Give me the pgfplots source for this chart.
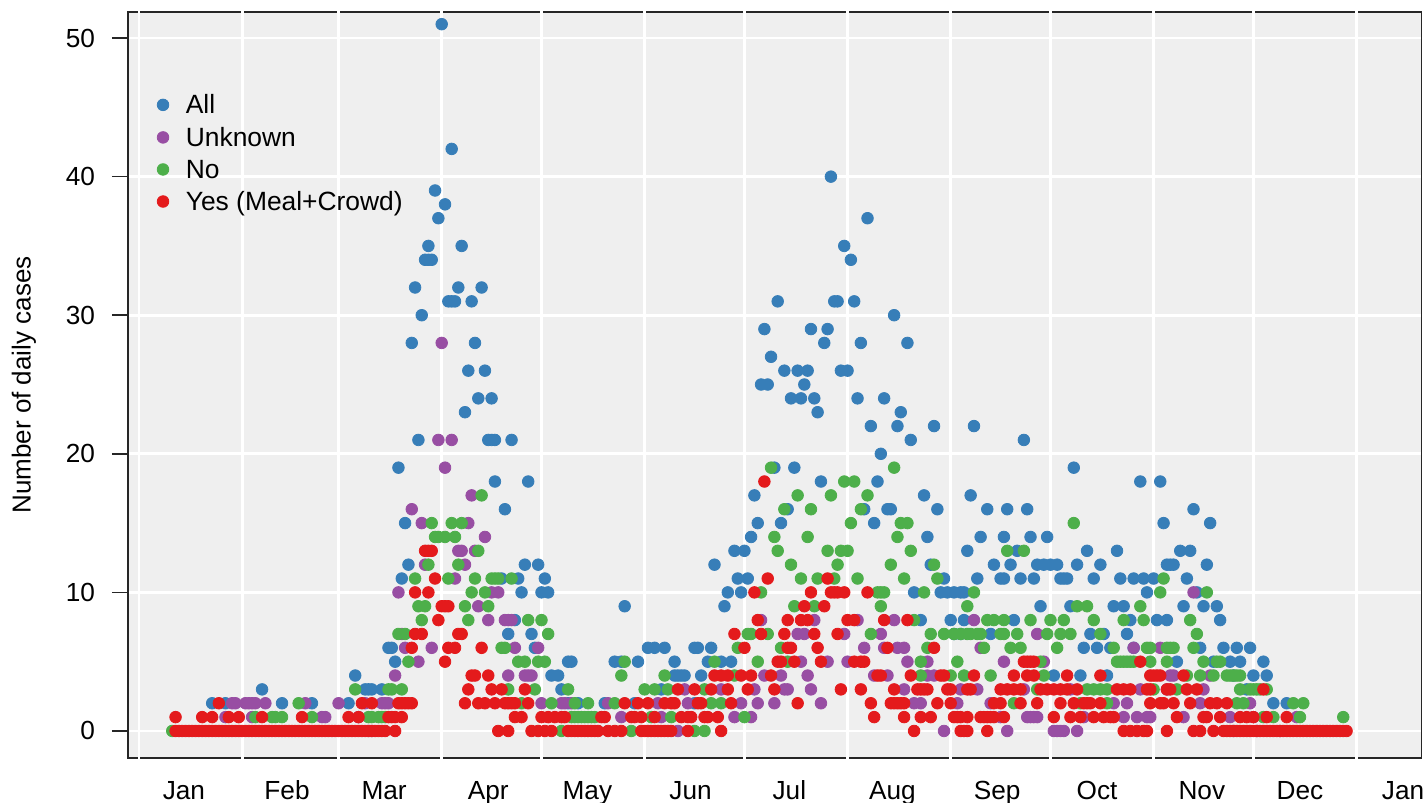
\documentclass[border=0pt]{standalone}
\usepackage{fontspec}
\setmainfont{Liberation Sans}
\usepackage{pgfplots}
\pgfplotsset{compat=1.18}

% 1 px of the reference = 0.5pt
\definecolor{cAll}{HTML}{377EB8}
\definecolor{cUnknown}{HTML}{984EA3}
\definecolor{cNo}{HTML}{4DAF4A}
\definecolor{cYes}{HTML}{E41A1C}
\definecolor{panel}{HTML}{EFEFEF}

\begin{document}
\begin{tikzpicture}
\begin{axis}[
    scale only axis,
    anchor=south west,
    at={(0pt,0pt)},
    width=646.7pt, height=373pt,
    xmin=-3.3, xmax=385.5,
    ymin=-1.95, ymax=51.88,
    axis background/.style={fill=panel},
    axis line style={line width=0.9pt,color=black!85},
    tick label style={font=\fontsize{13.1}{15}\selectfont},
    label style={font=\fontsize{13}{15}\selectfont},
    legend style={font=\fontsize{13.2}{15}\selectfont},
    xtick={13.5,44.5,73.7,105,134.8,165.8,195.5,226.5,258,288,319.5,349,380},
    xticklabels={Jan,Feb,Mar,Apr,May,Jun,Jul,Aug,Sep,Oct,Nov,Dec,Jan},
    minor xtick={0,31,60,91,121,152,182,213,244,274,305,335,366},
    xminorgrids=true,
    minor grid style={white,line width=1.4pt},
    major x tick style={draw=none},
    minor x tick style={draw=none},
    xtick pos=bottom,
    x tick label style={yshift=-7.5pt,text height=9.5pt,text depth=3pt},
    ytick={0,10,20,30,40,50},
    ymajorgrids=true,
    major grid style={white,line width=1.4pt},
    ytick pos=left,
    ytick align=outside,
    major tick length=8pt,
    y tick style={line width=0.8pt,black!85},
    y tick label style={xshift=-5pt},
    /pgf/number format/assume math mode=true,
    ylabel={Number of daily cases},
    ylabel style={at={(axis description cs:0,0.5)},anchor=center,yshift=52pt},
    legend cell align=left,
    legend style={draw=none,fill=none,at={(0.0223,0.8922)},anchor=north west,
        row sep=4.2pt,inner sep=0pt,nodes={inner sep=1pt}},
    % the white month lines cut the frame
    after end axis/.code={
        \foreach \d in {0,31,60,91,121,152,182,213,244,274,305,335,366}{
            \draw[white,line width=1.4pt] (axis cs:\d,-1.95) ++(0,-1pt) -- ++(0,2pt);
            \draw[white,line width=1.4pt] (axis cs:\d,51.88) ++(0,-1pt) -- ++(0,2pt);
        }
    },
]
\addplot[only marks,mark=*,mark size=2.9pt,color=cAll,mark options={draw=cAll,fill=cAll}] coordinates {
 (91,51) (94,42) (208,40) (89,39) (92,38) (90,37) (219,37)
 (87,35) (97,35) (212,35) (86,34) (87,34) (88,34) (214,34)
 (83,32) (96,32) (103,32)
 (93,31) (94,31) (95,31) (100,31) (192,31) (209,31) (210,31) (215,31)
 (85,30) (227,30) (188,29) (202,29) (207,29)
 (82,28) (101,28) (206,28) (217,28) (231,28) (190,27)
 (99,26) (104,26) (194,26) (198,26) (201,26) (211,26) (213,26)
 (187,25) (189,25) (200,25)
 (102,24) (106,24) (196,24) (199,24) (203,24) (216,24) (224,24)
 (98,23) (204,23) (229,23) (220,22) (228,22) (239,22) (251,22)
 (84,21) (105,21) (106,21) (107,21) (112,21) (232,21) (266,21) (223,20)
 (78,19) (191,19) (197,19) (281,19)
 (107,18) (117,18) (205,18) (222,18) (301,18) (307,18)
 (185,17) (236,17) (250,17)
 (110,16) (195,16) (218,16) (225,16) (226,16) (240,16) (255,16) (261,16) (267,16) (317,16)
 (80,15) (186,15) (193,15) (221,15) (308,15) (322,15)
 (184,14) (237,14) (253,14) (260,14) (268,14) (273,14)
 (179,13) (182,13) (249,13) (264,13) (285,13) (294,13) (313,13) (316,13)
 (81,12) (116,12) (120,12) (173,12) (238,12) (257,12) (262,12) (270,12) (272,12) (274,12) (276,12) (282,12) (289,12) (309,12) (310,12) (311,12) (321,12)
 (79,11) (109,11) (114,11) (122,11) (180,11) (183,11) (242,11) (252,11) (259,11) (260,11) (265,11) (269,11) (277,11) (278,11) (279,11) (287,11) (295,11) (299,11) (302,11) (305,11) (315,11)
 (115,10) (121,10) (123,10) (177,10) (181,10) (233,10) (241,10) (243,10) (245,10) (247,10) (248,10) (303,10) (318,10)
 (146,9) (176,9) (271,9) (280,9) (293,9) (296,9) (314,9) (320,9) (324,9)
 (113,8) (235,8) (244,8) (248,8) (263,8) (298,8) (306,8) (309,8) (325,8)
 (111,7) (118,7) (245,7) (247,7) (256,7) (286,7) (290,7) (297,7)
 (75,6) (76,6) (119,6) (153,6) (155,6) (158,6) (167,6) (168,6) (172,6) (284,6) (288,6) (292,6) (299,6) (319,6) (326,6) (330,6) (334,6)
 (77,5) (129,5) (130,5) (143,5) (145,5) (150,5) (161,5) (171,5) (175,5) (178,5) (312,5) (323,5) (328,5) (331,5) (338,5)
 (65,4) (124,4) (126,4) (161,4) (162,4) (163,4) (164,4) (169,4) (275,4) (283,4) (291,4) (329,4) (335,4) (339,4)
 (37,3) (68,3) (69,3) (70,3) (73,3) (127,3) (157,3) (333,3)
 (22,2) (26,2) (43,2) (52,2) (63,2) (129,2) (132,2) (140,2) (149,2) (167,2) (341,2) (345,2)
};
\addlegendentry{\hspace*{7.5pt}\raisebox{-1pt}{All}}
\addplot[only marks,mark=*,mark size=2.9pt,color=cUnknown,mark options={draw=cUnknown,fill=cUnknown}] coordinates {
 (91,28) (90,21) (94,21) (92,19) (100,17) (82,16) (85,15) (99,15) (104,14)
 (96,13) (97,13) (101,13) (86,12) (98,12) (95,11)
 (78,10) (106,10) (108,10) (317,10) (102,9)
 (105,8) (110,8) (111,8) (112,8) (187,8) (203,8) (216,8) (227,8) (251,8)
 (79,7) (198,7) (200,7) (212,7) (223,7) (270,7)
 (80,6) (88,6) (113,6) (120,6) (218,6) (224,6) (228,6) (230,6) (253,6) (299,6) (307,6)
 (84,5) (199,5) (207,5) (213,5) (231,5) (237,5) (260,5) (272,5)
 (77,4) (111,4) (116,4) (117,4) (118,4) (188,4) (193,4) (201,4) (221,4) (225,4) (237,4) (239,4) (310,4) (311,4) (322,4)
 (164,3) (175,3) (185,3) (194,3) (195,3) (202,3) (230,3) (247,3) (252,3) (266,3) (280,3) (301,3) (309,3) (320,3)
 (28,2) (29,2) (32,2) (33,2) (34,2) (35,2) (38,2) (50,2) (60,2) (68,2) (73,2) (74,2) (75,2) (121,2) (127,2) (128,2) (130,2) (141,2) (156,2) (165,2) (181,2) (186,2) (191,2) (205,2) (233,2) (235,2) (246,2) (256,2) (293,2) (297,2) (319,2) (334,2)
 (26,1) (34,1) (55,1) (56,1) (66,1) (145,1) (157,1) (179,1) (184,1) (259,1) (267,1) (268,1) (269,1) (270,1) (284,1) (296,1) (300,1) (303,1) (304,1) (314,1) (328,1) (335,1) (348,1)
 (69,0) (70,0) (162,0) (242,0) (261,0) (275,0) (276,0) (277,0) (278,0) (282,0) (329,0) (336,0) (343,0)
};
\addlegendentry{\hspace*{7.5pt}\raisebox{-1pt}{Unknown}}
\addplot[only marks,mark=*,mark size=2.9pt,color=cNo,mark options={draw=cNo,fill=cNo}] coordinates {
 (190,19) (227,19) (212,18) (215,18) (103,17) (198,17) (208,17) (219,17) (194,16) (202,16) (217,16)
 (88,15) (94,15) (97,15) (214,15) (229,15) (231,15) (281,15)
 (89,14) (90,14) (92,14) (95,14) (191,14) (201,14) (228,14)
 (102,13) (192,13) (207,13) (211,13) (213,13) (232,13) (261,13) (266,13)
 (87,12) (96,12) (196,12) (210,12) (226,12) (239,12)
 (83,11) (93,11) (101,11) (106,11) (107,11) (108,11) (112,11) (199,11) (204,11) (209,11) (216,11) (230,11) (240,11) (308,11)
 (100,10) (104,10) (187,10) (222,10) (223,10) (224,10) (236,10) (251,10) (307,10) (321,10)
 (84,9) (86,9) (98,9) (105,9) (197,9) (203,9) (223,9) (249,9) (282,9) (285,9) (301,9)
 (85,8) (99,8) (117,8) (121,8) (233,8) (255,8) (257,8) (260,8) (268,8) (274,8) (278,8) (287,8) (296,8) (302,8) (316,8)
 (78,7) (80,7) (123,7) (183,7) (184,7) (189,7) (220,7) (238,7) (242,7) (245,7) (247,7) (249,7) (250,7) (252,7) (253,7) (259,7) (260,7) (264,7) (273,7) (277,7) (280,7) (289,7) (318,7)
 (109,6) (110,6) (180,6) (193,6) (237,6) (254,6) (262,6) (265,6) (276,6) (293,6) (303,6) (304,6) (309,6) (310,6) (311,6) (317,6)
 (81,5) (114,5) (116,5) (120,5) (122,5) (146,5) (173,5) (186,5) (195,5) (235,5) (246,5) (271,5) (294,5) (295,5) (296,5) (297,5) (298,5) (299,5) (304,5) (309,5) (320,5) (324,5) (325,5)
 (145,4) (158,4) (179,4) (235,4) (244,4) (248,4) (256,4) (272,4) (315,4) (319,4) (323,4) (327,4) (328,4) (329,4) (330,4) (331,4)
 (65,3) (75,3) (76,3) (79,3) (111,3) (119,3) (129,3) (152,3) (155,3) (159,3) (170,3) (270,3) (285,3) (287,3) (289,3) (291,3) (305,3) (312,3) (331,3) (334,3) (335,3) (336,3) (337,3) (339,3)
 (48,2) (115,2) (124,2) (131,2) (135,2) (143,2) (172,2) (175,2) (263,2) (283,2) (291,2) (330,2) (332,2) (347,2) (350,2)
 (35,1) (40,1) (41,1) (43,1) (52,1) (69,1) (70,1) (72,1) (73,1) (74,1) (130,1) (131,1) (132,1) (133,1) (134,1) (135,1) (136,1) (137,1) (154,1) (160,1) (182,1) (338,1) (341,1) (349,1) (362,1)
 (10,0) (127,0) (148,0) (167,0) (170,0)
};
\addlegendentry{\hspace*{7.5pt}\raisebox{-1pt}{No}}
\addplot[only marks,mark=*,mark size=2.9pt,color=cYes,mark options={draw=cYes,fill=cYes}] coordinates {
 (188,18) (86,13) (87,13) (88,13) (89,11) (189,11) (207,11)
 (83,10) (87,10) (185,10) (202,10) (208,10) (209,10) (210,10) (212,10) (219,10)
 (91,9) (92,9) (93,9) (200,9) (206,9)
 (90,8) (186,8) (195,8) (199,8) (201,8) (213,8) (215,8) (224,8) (231,8)
 (83,7) (85,7) (96,7) (97,7) (179,7) (187,7) (194,7) (203,7) (210,7)
 (82,6) (93,6) (95,6) (103,6) (182,6) (195,6) (196,6) (204,6) (225,6) (239,6)
 (92,5) (192,5) (193,5) (197,5) (205,5) (215,5) (217,5) (218,5) (266,5) (267,5) (268,5) (269,5) (301,5)
 (100,4) (101,4) (105,4) (173,4) (175,4) (177,4) (181,4) (184,4) (190,4) (222,4) (223,4) (232,4) (241,4) (242,4) (251,4) (263,4) (267,4) (269,4) (279,4) (289,4) (304,4) (305,4) (306,4) (307,4) (314,4)
 (99,3) (106,3) (109,3) (116,3) (162,3) (167,3) (172,3) (177,3) (183,3) (191,3) (211,3) (217,3) (227,3) (234,3) (235,3) (236,3) (237,3) (243,3) (244,3) (249,3) (250,3) (259,3) (261,3) (263,3) (265,3) (271,3) (273,3) (275,3) (277,3) (279,3) (282,3) (294,3) (296,3) (298,3) (303,3) (304,3) (309,3) (310,3) (315,3) (318,3) (338,3)
 (24,2) (67,2) (70,2) (78,2) (79,2) (80,2) (81,2) (82,2) (98,2) (102,2) (104,2) (107,2) (110,2) (111,2) (112,2) (113,2) (117,2) (146,2) (150,2) (153,2) (158,2) (160,2) (161,2) (168,2) (169,2) (178,2) (198,2) (220,2) (226,2) (227,2) (228,2) (229,2) (230,2) (240,2) (244,2) (257,2) (259,2) (265,2) (270,2) (277,2) (281,2) (284,2) (285,2) (286,2) (289,2) (304,2) (307,2) (308,2) (311,2) (316,2) (322,2) (324,2) (327,2)
 (11,1) (19,1) (22,1) (27,1) (30,1) (37,1) (49,1) (63,1) (66,1) (75,1) (76,1) (77,1) (79,1) (113,1) (115,1) (121,1) (123,1) (125,1) (127,1) (128,1) (139,1) (140,1) (148,1) (149,1) (151,1) (155,1) (163,1) (165,1) (166,1) (170,1) (171,1) (174,1) (221,1) (230,1) (235,1) (238,1) (245,1) (246,1) (247,1) (249,1) (253,1) (254,1) (255,1) (256,1) (257,1) (260,1) (275,1) (280,1) (283,1) (287,1) (290,1) (292,1) (293,1) (312,1) (320,1) (321,1) (325,1) (331,1) (333,1) (335,1) (339,1) (345,1)
 (11,0) (12,0) (13,0) (14,0) (15,0) (16,0) (17,0) (18,0) (19,0) (20,0) (21,0) (22,0) (23,0) (24,0) (25,0) (26,0) (27,0) (28,0) (29,0) (30,0)
 (31,0) (32,0) (33,0) (34,0) (35,0) (36,0) (37,0) (38,0) (39,0) (40,0) (41,0) (42,0) (43,0) (44,0) (45,0) (46,0) (47,0) (48,0) (49,0) (50,0)
 (51,0) (52,0) (53,0) (54,0) (55,0) (56,0) (57,0) (58,0) (59,0) (60,0) (61,0) (62,0) (63,0) (64,0) (65,0) (66,0) (67,0) (68,0) (69,0) (70,0)
 (71,0) (72,0) (73,0) (74,0) (77,0) (108,0) (111,0) (118,0) (120,0) (122,0) (124,0)
 (129,0) (130,0) (131,0) (132,0) (133,0) (134,0) (135,0) (136,0) (137,0) (138,0) (141,0) (143,0) (145,0)
 (151,0) (152,0) (153,0) (154,0) (155,0) (156,0) (157,0) (158,0) (159,0) (160,0) (165,0) (175,0) (233,0) (247,0) (248,0) (249,0) (255,0) (296,0) (298,0) (300,0) (302,0) (303,0) (309,0) (317,0) (319,0) (323,0)
 (326,0) (327,0) (328,0) (329,0) (330,0) (331,0) (332,0) (333,0) (334,0) (335,0) (336,0) (337,0) (338,0) (339,0) (340,0) (341,0) (342,0) (343,0) (344,0) (345,0)
 (346,0) (347,0) (348,0) (349,0) (350,0) (351,0) (352,0) (353,0) (354,0) (355,0) (356,0) (357,0) (358,0) (359,0) (360,0) (361,0) (362,0) (363,0)
};
\addlegendentry{\hspace*{7.5pt}\raisebox{-1pt}{Yes (Meal+Crowd)}}
\end{axis}
\pgfresetboundingbox
\path[use as bounding box] (-64pt,-22.5pt) rectangle (649pt,379pt);
\end{tikzpicture}
\end{document}
